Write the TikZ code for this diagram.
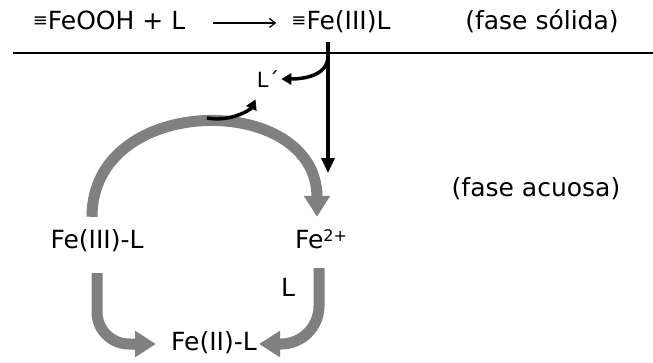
\documentclass[tikz,border=0pt]{standalone}
\usepackage{fontspec}
\setmainfont{DejaVu Sans}
\usetikzlibrary{arrows.meta}
\definecolor{cycgray}{RGB}{128,128,128}
\newcommand{\srfeq}{\raisebox{3pt}{\fontsize{18}{18}\selectfont ≡}}

\begin{document}
\begin{tikzpicture}[
  x=1pt, y=1pt,
  chem/.style={inner sep=0pt, anchor=base, text height=18pt, text depth=6pt, font=\fontsize{25}{30}\selectfont},
  rxn/.style={-{Straight Barb[length=6pt,width=9pt]}, line width=1.2pt},
  blk/.style={-{Triangle[length=15pt,width=13pt]}, line width=3.2pt},
  hook/.style={-{Triangle[length=10pt,width=11pt]}, line width=3.5pt},
  cyc/.style={-{Triangle[length=21pt,width=25pt]}, line width=11pt, draw=cycgray}
]
  \useasboundingbox (0,0) rectangle (653,-362);

  % solid phase
  \node[chem] (feooh) at (109,-29) {\srfeq FeOOH + L};
  \node[chem] (fe3s) at (341,-29) {\srfeq Fe(III)L};
  \node[chem] (solid) at (542,-29) {(fase sólida)};
  \draw[line width=2pt] (13,-53) -- (653,-53);
  \draw[rxn, shorten <=28pt, shorten >=15pt] (feooh) -- (fe3s);

  % aqueous phase
  \node[chem] (aq) at (536,-196) {(fase acuosa)};
  \node[chem] (fe3l) at (97,-248) {Fe(III)-L};
  \node[chem] (fe2) at (321,-248) {Fe\raisebox{7pt}{\fontsize{16}{16}\selectfont 2+}};
  \node[chem] (fe2l) at (214,-350) {Fe(II)-L};
  \node[chem, anchor=center] (lig) at (288,-290) {L};
  \node[inner sep=0pt, font=\fontsize{21}{24}\selectfont] (lp) at (268,-79) {L´};

  \coordinate (pin) at (328,-42);
  \coordinate (drop) at (328,-173);
  \coordinate (split) at (328,-56);
  \coordinate (kick) at (207,-118);

  \draw[cyc, shorten <=13pt, shorten >=13pt] ([xshift=-5pt]fe3l.north) .. controls +(0,138) and +(0,138) .. ([xshift=-4pt]fe2.north);
  \draw[cyc, rounded corners=32pt, shorten <=19pt, shorten >=15pt] (fe3l.south) |- (fe2l.west);
  \draw[cyc, rounded corners=38pt, shorten <=14pt, shorten >=2pt] ([xshift=-2pt]fe2.south) |- (fe2l.east);

  \draw[blk] (pin) -- (drop);
  \draw[hook, shorten >=2pt] (split) to[out=-90,in=0] (lp.east);
  \draw[hook, shorten >=13pt] (kick) to[out=-10,in=-115] ([xshift=-7pt]lp.south);
\end{tikzpicture}
\end{document}
